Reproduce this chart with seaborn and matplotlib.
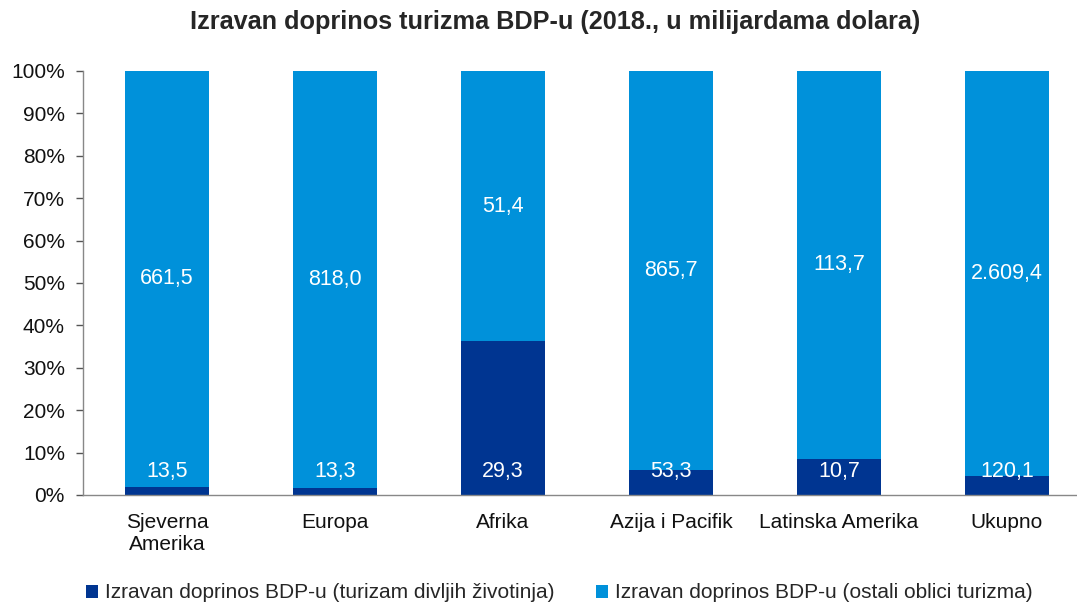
import numpy as np
import pandas as pd
import matplotlib
matplotlib.use("Agg")
import matplotlib.pyplot as plt
import seaborn as sns
from matplotlib.patches import Patch

categories = ["Sjeverna\nAmerika", "Europa", "Afrika", "Azija i Pacifik", "Latinska Amerika", "Ukupno"]
wildlife = [13.5, 13.3, 29.3, 53.3, 10.7, 120.1]
other = [661.5, 818.0, 51.4, 865.7, 113.7, 2609.4]
wildlife_labels = ["13,5", "13,3", "29,3", "53,3", "10,7", "120,1"]
other_labels = ["661,5", "818,0", "51,4", "865,7", "113,7", "2.609,4"]
series_names = ["Izravan doprinos BDP-u (turizam divljih životinja)",
                "Izravan doprinos BDP-u (ostali oblici turizma)"]
title = "Izravan doprinos turizma BDP-u (2018., u milijardama dolara)"

dark = "#003591"
light = "#0091DA"

sns.set_theme(style="white")
plt.rcParams["font.family"] = ["Liberation Sans", "DejaVu Sans"]

w = np.array(wildlife)
o = np.array(other)
tot = w + o
w_pct = w / tot * 100
df = pd.DataFrame({"cat": categories, "total": 100.0, "wild": w_pct})

fig = plt.figure(figsize=(10.77, 6.02), dpi=100)
ax = fig.add_axes([83 / 1077, 107 / 602, 1008 / 1077, 424 / 602])

sns.barplot(data=df, x="cat", y="total", color=light, width=0.5, ax=ax, saturation=1,
            edgecolor="none", linewidth=0)
sns.barplot(data=df, x="cat", y="wild", color=dark, width=0.5, ax=ax, saturation=1,
            edgecolor="none", linewidth=0)

for i in range(len(categories)):
    ax.text(i, w_pct[i] + (100 - w_pct[i]) / 2, other_labels[i], ha="center", va="center",
            color="white", fontsize=15.5)
    ax.text(i, 5.5, wildlife_labels[i], ha="center", va="center", color="white", fontsize=15.5)

ax.set_xlim(-0.5, len(categories) - 0.5)
ax.set_ylim(0, 100)
ax.set_yticks(np.arange(0, 101, 10))
ax.set_yticklabels([f"{v}%" for v in range(0, 101, 10)], fontsize=15, color="#111111")
ax.set_xticks(range(len(categories)))
ax.set_xticklabels(categories, fontsize=15, color="#111111", linespacing=1.2)
ax.set_xticks(np.arange(-0.5, len(categories)), minor=True)
ax.tick_params(axis="x", which="major", length=0, pad=13)
ax.tick_params(axis="x", which="minor", length=5, width=1, color="#555555", direction="out")
ax.tick_params(axis="y", which="major", length=5, width=1, color="#555555", direction="out", left=True, pad=8)
ax.set_xlabel("")
ax.set_ylabel("")
for s in ["top", "right"]:
    ax.spines[s].set_visible(False)
for s in ["left", "bottom"]:
    ax.spines[s].set_color("#888888")
    ax.spines[s].set_linewidth(1)

fig.text(555 / 1077, 1 - 22 / 602, title, ha="center", va="center", fontsize=18.2, fontweight="bold")

handles = [Patch(facecolor=dark, edgecolor="none"), Patch(facecolor=light, edgecolor="none")]
fig.legend(handles, series_names, loc="center", bbox_to_anchor=(559 / 1077, 1 - 593 / 602),
           ncol=2, frameon=False, fontsize=15, handlelength=0.6, handleheight=0.6,
           handletextpad=0.3, columnspacing=2.0)

fig.savefig("out.png", dpi=100)
